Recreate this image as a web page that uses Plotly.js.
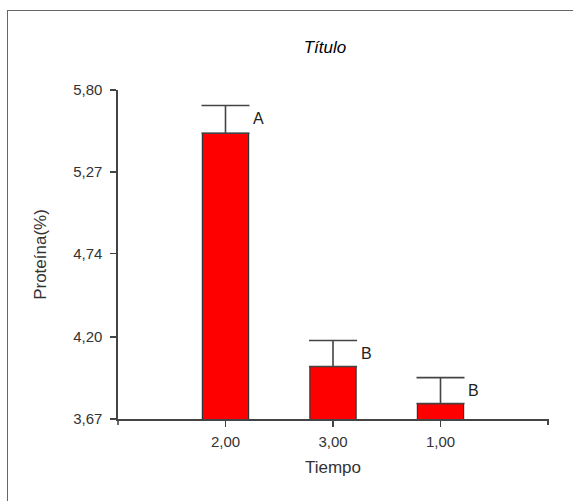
<!DOCTYPE html>
<html>
<head>
<meta charset="utf-8">
<script src="https://cdn.plot.ly/plotly-3.0.1.min.js"></script>
<style>
html,body{margin:0;padding:0;background:#fff;}
#wrap{position:relative;width:573px;height:501px;}
#chart{width:573px;height:501px;}
#frame{position:absolute;left:7px;top:10px;width:580px;height:500px;border-left:1.5px solid #666;border-top:1.5px solid #666;pointer-events:none;}
</style>
</head>
<body>
<div id="wrap"><div id="chart"></div><div id="frame"></div></div>
<script>
const categories = ["2,00", "3,00", "1,00"];
const means = [5.52, 4.01, 3.77];
const errors = [0.18, 0.168, 0.168];
const letters = ["A", "B", "B"];
const yTickVals = [3.67, 4.20, 4.74, 5.27, 5.80];
const yTickText = ["3,67", "4,20", "4,74", "5,27", "5,80"];

const font = "Liberation Sans, Arial, sans-serif";

const trace = {
  type: "bar",
  x: categories,
  y: means,
  width: 0.43,
  marker: {color: "#FF0000", line: {color: "#333333", width: 1.2}},
  error_y: {type: "data", symmetric: false, array: errors, arrayminus: errors.map(() => 0),
            color: "#444444", thickness: 1.6, width: 24},
  hoverinfo: "skip"
};

const annotations = categories.map((c, i) => ({
  x: c, y: means[i] + errors[i], xref: "x", yref: "y",
  text: letters[i], showarrow: false, xshift: 33, yshift: -13,
  font: {family: font, size: 16, color: "#222"}
}));

const layout = {
  width: 573, height: 501,
  margin: {l: 118, r: 25, t: 90, b: 82},
  paper_bgcolor: "#fff", plot_bgcolor: "#fff",
  showlegend: false,
  title: {text: "<i>Título</i>", x: 0.567, xanchor: "center", y: 0.906, yanchor: "middle",
          font: {family: font, size: 17, color: "#000", weight: 500}},
  xaxis: {
    type: "category", categoryorder: "array", categoryarray: categories,
    range: [-1, 3], showgrid: false, zeroline: false,
    showline: true, linecolor: "#444", linewidth: 1.6,
    ticks: "outside", ticklen: 6, tickwidth: 1.4, tickcolor: "#444",
    ticklabelstandoff: 2,
    tickfont: {family: font, size: 15, color: "#333"},
    title: {text: "Tiempo", font: {family: font, size: 17, color: "#333"}, standoff: 12}
  },
  yaxis: {
    range: [3.67, 5.80], showgrid: false, zeroline: false,
    showline: true, linecolor: "#444", linewidth: 1.6,
    tickmode: "array", tickvals: yTickVals, ticktext: yTickText,
    ticks: "outside", ticklen: 6, tickwidth: 1.4, tickcolor: "#444",
    ticklabelstandoff: 5,
    tickfont: {family: font, size: 15, color: "#333"},
    title: {text: "Proteína(%)", font: {family: font, size: 17, color: "#333"}, standoff: 22}
  },
  annotations: annotations,
  shapes: [
    {type: "line", xref: "paper", yref: "paper", x0: 1, x1: 1, y0: 0, y1: -0.018,
     line: {color: "#444", width: 2}},
    {type: "line", xref: "paper", yref: "paper", x0: 0, x1: 0, y0: 0, y1: -0.018,
     line: {color: "#444", width: 1.6}}
  ],
  bargap: 0.5
};

Plotly.newPlot("chart", [trace], layout, {displayModeBar: false, staticPlot: true});
</script>
</body>
</html>
